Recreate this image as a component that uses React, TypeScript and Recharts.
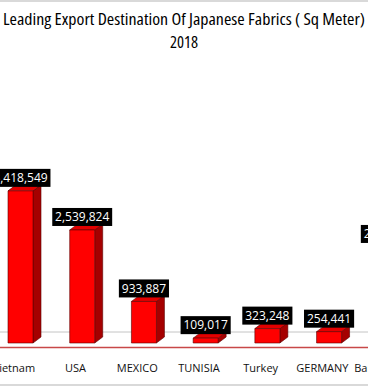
import React from 'react';
import { BarChart, Bar, XAxis, YAxis, LabelList } from 'recharts';

const countries = ['Vietnam', 'USA', 'MEXICO', 'TUNISIA', 'Turkey', 'GERMANY', 'Bangladesh'];
const exportValues = [3418549, 2539824, 933887, 109017, 323248, 254441, 2158377];
const titleLines = ['Leading Export Destination Of Japanese Fabrics ( Sq Meter)', '2018'];

const data = countries.map((name, i) => ({ name, value: exportValues[i] }));

const FONT = '"Open Sans", sans-serif';
const DX = 7;
const DEPTH_X = 8;
const DEPTH_Y = 6;

const Bar3D = (props: any) => {
  const { x, y, width, height } = props;
  const fx = x + DX;
  const bottom = y + height;
  const front = `M${fx},${y} h${width} V${bottom} h${-width} Z`;
  const side = `M${fx + width},${y} l${DEPTH_X},${-DEPTH_Y} V${bottom - DEPTH_Y} l${-DEPTH_X},${DEPTH_Y} Z`;
  const top = `M${fx},${y} l${DEPTH_X},${-DEPTH_Y} h${width} l${-DEPTH_X},${DEPTH_Y} Z`;
  return (
    <g>
      <path d={side} fill="#a50000" stroke="#5a0000" strokeWidth={0.6} />
      <path d={top} fill="#e30000" stroke="#5a0000" strokeWidth={0.6} />
      <path d={front} fill="#ff0000" stroke="#5a0000" strokeWidth={0.6} />
    </g>
  );
};

const ValueLabel = (props: any) => {
  const { x, y, width, value } = props;
  const text = Number(value).toLocaleString('en-US');
  const digits = text.replace(/,/g, '').length;
  const commas = text.length - digits;
  const w = digits * 6.86 + commas * 2.95 + 6;
  const h = 18;
  const cx = Number(x) + Number(width) / 2 + DX;
  const bottom = Number(y) - 4;
  return (
    <g>
      <rect x={cx - w / 2} y={bottom - h} width={w} height={h} fill="#000" />
      <text x={cx} y={bottom - h / 2} dy="0.36em" textAnchor="middle" fill="#fff" fontSize={12} fontFamily={FONT}>
        {text}
      </text>
    </g>
  );
};

const CategoryTick = (props: any) => {
  const { x, y, payload } = props;
  return (
    <text x={x} y={Number(y) + 28.5} textAnchor="middle" fill="#111" fontSize={11} fontFamily={FONT}>
      {payload.value}
    </text>
  );
};

export default function App() {
  return (
    <div style={{ position: 'absolute', left: 0, top: 0, width: 368, height: 387, overflow: 'hidden', background: '#fff' }}>
      <svg width={368} height={387} style={{ position: 'absolute', left: 0, top: 0 }}>
        <rect x={-2} y={0} width={372} height={2} fill="#d9d9d9" />
        <rect x={-2} y={384} width={372} height={2} fill="#d9d9d9" />
        <line x1={0} x2={368} y1={332} y2={332} stroke="#c4c4c4" strokeWidth={1} />
        <line x1={0} x2={368} y1={347.5} y2={347.5} stroke="#c84848" strokeWidth={1.5} />
      </svg>
      <div style={{ position: 'absolute', left: -17, top: 0 }}>
        <BarChart width={432} height={387} data={data} margin={{ top: 165, right: 0, left: 0, bottom: 0 }} barCategoryGap={0}>
          <YAxis hide domain={[0, 4000000]} />
          <XAxis dataKey="name" height={44} axisLine={false} tickLine={false} tickSize={0} tickMargin={0} interval={0} tick={<CategoryTick />} />
          <Bar dataKey="value" barSize={25} isAnimationActive={false} shape={<Bar3D />}>
            <LabelList dataKey="value" content={<ValueLabel />} />
          </Bar>
        </BarChart>
      </div>
      <svg width={368} height={387} style={{ position: 'absolute', left: 0, top: 0, pointerEvents: 'none' }}>
        <text x={184} y={25} textAnchor="middle" fontSize={16.5} fontFamily={FONT} fontStretch="condensed" fill="#000" textLength={362} lengthAdjust="spacingAndGlyphs">
          {titleLines[0]}
        </text>
        <text x={184} y={48} textAnchor="middle" fontSize={16.5} fontFamily={FONT} fontStretch="condensed" fill="#000">
          {titleLines[1]}
        </text>
      </svg>
    </div>
  );
}
